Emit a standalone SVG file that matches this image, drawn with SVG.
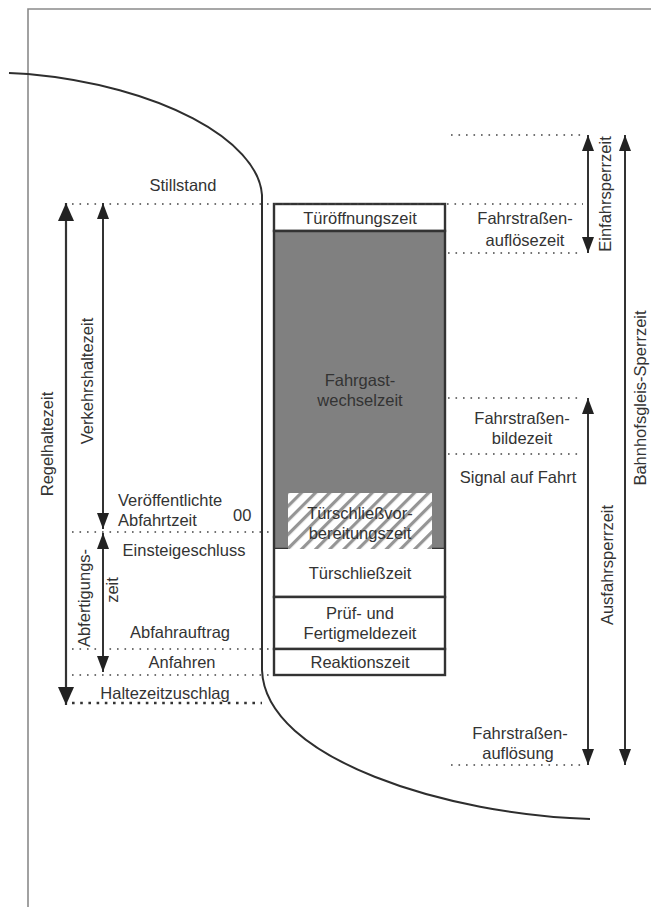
<svg xmlns="http://www.w3.org/2000/svg" width="651" height="907" viewBox="0 0 651 907">
  <style>
    text { font-family: "Liberation Sans", Arial, sans-serif; font-size: 16.5px; fill: #333; }
    .mid { text-anchor: middle; }
    .frame { fill: none; stroke: #8a8a8a; stroke-width: 1.6; }
    .curve { fill: none; stroke: #2e2e2e; stroke-width: 2; }
    .cell { stroke: #333; stroke-width: 2.4; }
    .dot { fill: none; stroke: #444; stroke-width: 1.6; stroke-dasharray: 1.6 5.9; }
    .dotb { fill: none; stroke: #333; stroke-width: 2.6; stroke-dasharray: 2.6 5.6; }
    .arr { fill: none; stroke: #333; stroke-width: 2; marker-start: url(#head); marker-end: url(#head); }
    .arrL { fill: none; stroke: #333; stroke-width: 2.2; marker-start: url(#headL); marker-end: url(#headL); }
  </style>
  <defs>
    <marker id="head" viewBox="0 0 16 12" refX="16" refY="6" markerWidth="16" markerHeight="12" markerUnits="userSpaceOnUse" orient="auto-start-reverse">
      <path d="M0,0 L16,6 L0,12 z" fill="#222"/>
    </marker>
    <marker id="headL" viewBox="0 0 18 16" refX="18" refY="8" markerWidth="18" markerHeight="16" markerUnits="userSpaceOnUse" orient="auto-start-reverse">
      <path d="M0,0 L18,8 L0,16 z" fill="#222"/>
    </marker>
    <pattern id="hatch" patternUnits="userSpaceOnUse" width="10" height="10" patternTransform="rotate(45)">
      <rect width="10" height="10" fill="#fff"/>
      <rect x="0" y="0" width="3.2" height="10" fill="#959595"/>
    </pattern>
  </defs>

  <rect width="651" height="907" fill="#fff"/>

  <!-- outer frame (left and top edges) -->
  <path class="frame" d="M28,907 V9 H651"/>

  <!-- track / platform edge curve -->
  <path class="curve" d="M9,73 L28,74 C160,86 258,140 262,195 L262,670 C265,760 450,815 590,819"/>

  <!-- stop-time column -->
  <g id="col-dwell">
    <g id="cell-tueroeffnung">
      <rect class="cell" x="274" y="204" width="171" height="27" fill="#fff"/>
      <text class="mid" x="360" y="224">Türöffnungszeit</text>
    </g>
    <g id="cell-fahrgastwechsel">
      <rect x="274" y="231" width="171" height="318" fill="#808080"/>
      <path class="cell" fill="none" d="M274,549 V231 H445 V549"/>
      <path class="cell" fill="none" d="M274,549 H288 M432,549 H445"/>
      <text class="mid" x="360" y="386">Fahrgast-</text>
      <text class="mid" x="360" y="406">wechselzeit</text>
    </g>
    <g id="cell-tuerschliessvorbereitung">
      <rect x="288" y="493" width="144" height="56" fill="url(#hatch)"/>
      <text class="mid" x="360" y="519">Türschließvor-</text>
      <text class="mid" x="360" y="539">bereitungszeit</text>
    </g>
    <g id="cell-tuerschliess">
      <path class="cell" fill="#fff" d="M274,549 V597 H445 V549"/>
      <text class="mid" x="360" y="579">Türschließzeit</text>
    </g>
    <g id="cell-pruef">
      <rect class="cell" x="274" y="597" width="171" height="52" fill="#fff"/>
      <text class="mid" x="360" y="619">Prüf- und</text>
      <text class="mid" x="360" y="639">Fertigmeldezeit</text>
    </g>
    <g id="cell-reaktion">
      <rect class="cell" x="274" y="649" width="171" height="26" fill="#fff"/>
      <text class="mid" x="360" y="668">Reaktionszeit</text>
    </g>
  </g>

  <!-- reference lines and time-span arrows -->
  <g id="connectors">
    <path class="dot" d="M72,204 H583"/>
    <path class="dot" d="M72,532 H274"/>
    <path class="dot" d="M72,649 H272"/>
    <path class="dot" d="M72,675 H272"/>
    <path class="dotb" d="M72,703 H262"/>
    <path class="dot" d="M451,135 H582"/>
    <path class="dot" d="M448,253 H583"/>
    <path class="dot" d="M448,398 H583"/>
    <path class="dot" d="M448,454 H583"/>
    <path class="dot" d="M451,765 H586"/>

    <path class="arrL" d="M66,203 V705"/>
    <path class="arr" d="M103,203 V529"/>
    <path class="arr" d="M103,533 V672"/>

    <path class="arr" d="M588,135 V253"/>
    <path class="arr" d="M625,135 V765"/>
    <path class="arr" d="M588,398 V765"/>
  </g>

  <!-- event labels, left -->
  <g id="lbl-stillstand"><text class="mid" x="183" y="191">Stillstand</text></g>
  <g id="lbl-abfahrtzeit">
    <text x="118" y="506">Veröffentlichte</text>
    <text x="118" y="526">Abfahrtzeit</text>
    <text x="233" y="521">00</text>
  </g>
  <g id="lbl-einsteigeschluss"><text class="mid" x="184" y="556">Einsteigeschluss</text></g>
  <g id="lbl-abfahrauftrag"><text class="mid" x="180" y="638">Abfahrauftrag</text></g>
  <g id="lbl-anfahren"><text class="mid" x="182" y="668">Anfahren</text></g>
  <g id="lbl-haltezeitzuschlag"><text class="mid" x="165" y="699">Haltezeitzuschlag</text></g>

  <!-- span labels, left (vertical) -->
  <g id="lbl-regelhaltezeit"><text class="mid" transform="translate(53,444) rotate(-90)">Regelhaltezeit</text></g>
  <g id="lbl-verkehrshaltezeit"><text class="mid" transform="translate(93,381) rotate(-90)">Verkehrshaltezeit</text></g>
  <g id="lbl-abfertigungszeit">
    <text class="mid" transform="translate(90,598) rotate(-90)">Abfertigungs-</text>
    <text class="mid" transform="translate(118,590) rotate(-90)">zeit</text>
  </g>

  <!-- event labels, right -->
  <g id="lbl-fs-aufloesezeit">
    <text class="mid" x="525" y="224">Fahrstraßen-</text>
    <text class="mid" x="525" y="246">auflösezeit</text>
  </g>
  <g id="lbl-fs-bildezeit">
    <text class="mid" x="522" y="424">Fahrstraßen-</text>
    <text class="mid" x="522" y="444">bildezeit</text>
  </g>
  <g id="lbl-signal"><text class="mid" x="518" y="483">Signal auf Fahrt</text></g>
  <g id="lbl-fs-aufloesung">
    <text class="mid" x="520" y="739">Fahrstraßen-</text>
    <text class="mid" x="518" y="759">auflösung</text>
  </g>

  <!-- span labels, right (vertical) -->
  <g id="lbl-einfahrsperrzeit"><text class="mid" transform="translate(611,194) rotate(-90)">Einfahrsperrzeit</text></g>
  <g id="lbl-ausfahrsperrzeit"><text class="mid" transform="translate(613,565) rotate(-90)">Ausfahrsperrzeit</text></g>
  <g id="lbl-bahnhofsgleis"><text class="mid" transform="translate(646,398) rotate(-90)">Bahnhofsgleis-Sperrzeit</text></g>
</svg>
